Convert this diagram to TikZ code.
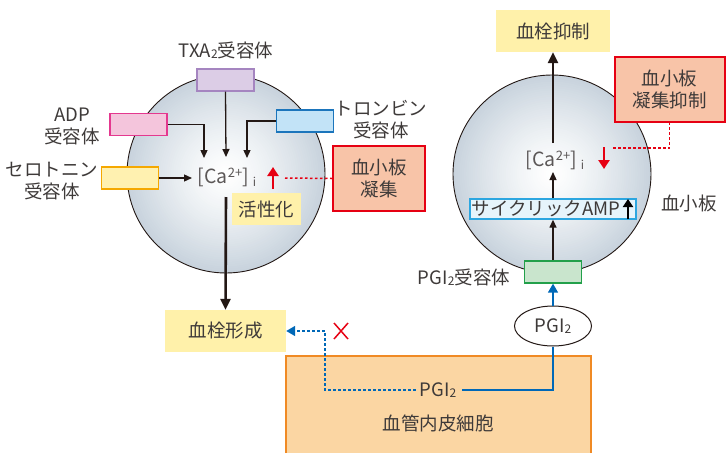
\documentclass[tikz,border=0pt]{standalone}
\usepackage{fontspec}
\setmainfont{Noto Sans CJK JP}
\usetikzlibrary{arrows.meta,calc,shapes.geometric}
\definecolor{txt}{HTML}{3E3A39}
\definecolor{cedge}{HTML}{231815}
\definecolor{cfill}{HTML}{C8D3DD}
\definecolor{txaf}{HTML}{DCCDE6}
\definecolor{txad}{HTML}{A585C0}
\definecolor{adpf}{HTML}{F4C5DC}
\definecolor{adpd}{HTML}{E4388F}
\definecolor{serf}{HTML}{FFF1B0}
\definecolor{serd}{HTML}{F5A800}
\definecolor{thrf}{HTML}{C2E3F7}
\definecolor{thrd}{HTML}{1B75BC}
\definecolor{yel}{HTML}{FFF1AA}
\definecolor{salm}{HTML}{F8C4A8}
\definecolor{rd}{HTML}{E60012}
\definecolor{orf}{HTML}{FBD6A3}
\definecolor{ord}{HTML}{F08A24}
\definecolor{grf}{HTML}{C9E5CD}
\definecolor{grd}{HTML}{22A04A}
\definecolor{bl}{HTML}{0068B7}
\definecolor{cyf}{HTML}{E6F4FB}
\definecolor{cyd}{HTML}{2CA6E0}
\tikzset{
  platelet/.style={circle, draw=cedge, line width=0.9pt, minimum size=198pt, inner sep=0pt},
  rbox/.style={rectangle, line width=1.3pt, minimum width=57pt, minimum height=22pt, inner sep=0pt},
  lbl/.style={align=center, inner sep=0pt, text=txt},
  ybox/.style={rectangle, fill=yel, inner sep=0pt, text=txt},
  rbx/.style={rectangle, fill=salm, draw=rd, line width=2pt, inner sep=0pt, align=center, text=txt},
  arr/.style={draw=cedge, line width=1.3pt, -{Triangle[length=8pt,width=7pt]}},
  thick arr/.style={draw=cedge, line width=2.6pt, -{Triangle[length=11pt,width=10pt]}},
  redarr/.style={draw=rd, line width=2.8pt, -{Triangle[length=9pt,width=11pt]}},
  reddot/.style={draw=rd, line width=1.5pt, dash pattern=on 2.5pt off 2.5pt},
  bluedot/.style={draw=bl, line width=1.5pt, dash pattern=on 2.5pt off 2.5pt, -{Triangle[length=9pt,width=10pt]}},
  bluearr/.style={draw=bl, line width=1.5pt, -{Triangle[length=9pt,width=10pt]}},
}
\newcommand{\subtwo}{\raisebox{-1pt}{\fontsize{12}{12}\selectfont 2}}
\newcommand{\caconc}{{\fontsize{19.5}{22}\selectfont[Ca\raisebox{6pt}{\fontsize{13}{13}\selectfont 2+}]\hspace{4pt}\raisebox{-3pt}{\fontsize{12}{12}\selectfont i}}}
\newcommand{\pltgrad}[1]{%
  \foreach \k in {0,...,44}{%
    \pgfmathsetmacro\rr{99*(1-\k/45)}%
    \pgfmathsetmacro\pp{100*(1-\k/45)^1.3}%
    \fill[cfill!\pp!white] (#1.center) circle (\rr);%
  }%
  \node[platelet] at (#1.center) {};%
}
\begin{document}
\begin{tikzpicture}[x=1pt,y=-1pt, font=\fontsize{18.5}{22}\selectfont, text=txt]
\useasboundingbox (0,0) rectangle (726,453);

% platelets
\node[platelet, draw=none] (lc) at (226,174) {};
\node[platelet, draw=none] (rc) at (552,174) {};
\pltgrad{lc}
\pltgrad{rc}

% left receptors
\node[rbox, fill=txaf, draw=txad] (txa) at (225.5,80) {};
\node[rbox, fill=adpf, draw=adpd] (adp) at (138.5,124.5) {};
\node[rbox, fill=serf, draw=serd] (ser) at (130,178) {};
\node[rbox, fill=thrf, draw=thrd] (thr) at (305,121) {};

\node[lbl] (txal) at (226,50) {TXA\subtwo 受容体};
\node[lbl] (adpl) at (72,126) {ADP\\受容体};
\node[lbl] (serl) at (52,181) {セロトニン\\受容体};
\node[lbl] (thrl) at (381,120) {トロンビン\\受容体};

\node[lbl, text=txt!85] (cal) at (227,177) {\caconc};

\coordinate (adpend) at (204,158);
\coordinate (txaend) at (226,157);
\coordinate (thrend) at (247,158);
\coordinate (serend) at (192,178);
\draw[arr] (adp.east) -| (adpend);
\draw[arr] (txa.south) -- (txaend);
\draw[arr] (thr.west) -| (thrend);
\draw[arr] (ser.east) -- (serend);

% red up arrow + dotted to aggregation
\coordinate (ru0) at (273,189);
\coordinate (ru1) at (273,167);
\draw[redarr] (ru0) -- (ru1);
\node[rbx, minimum width=92pt, minimum height=65pt] (agg) at (379,178.5) {血小板\\凝集};
\coordinate (rdl) at (285,178);
\draw[reddot] (rdl) -- (agg.west);

\node[ybox, minimum width=69pt, minimum height=32pt] (act) at (266.5,209) {活性化};

% thrombus formation
\node[ybox, minimum width=121pt, minimum height=42pt] (tf) at (225.5,331) {血栓形成};
\coordinate (ts) at (226,197);
\draw[thick arr] (ts) -- (tf.north);

% endothelium
\fill[orf] (286,356) rectangle (591,453);
\draw[ord, line width=1.3pt] (286,453) -- (286,356) -- (591,356) -- (591,453);
\node[lbl] (pgie) at (438,390) {PGI\subtwo};
\node[lbl] (endo) at (438,423) {血管内皮細胞};

% blocked path
\coordinate (bc) at (325,331);
\draw[bluedot] ([xshift=-4pt]pgie.west) -| (bc) -- (tf.east);
\draw[rd, line width=1.5pt] (334,323) -- (348,339) (348,323) -- (334,339);

% right side
\node[rbox, fill=grf, draw=grd] (pgir) at (553,272) {};
\node[lbl] (pgirl) at (464,277) {PGI\subtwo 受容体};
\node[ellipse, draw=cedge, fill=white, line width=1pt, minimum width=77pt, minimum height=40pt, inner sep=0pt] (pgiel) at (553,326) {PGI\subtwo};
\draw[bl, line width=1.5pt] ([xshift=6pt]pgie.east) -| (pgiel.south);
\draw[bluearr] (pgiel.north) -- (pgir.south);

\node[rectangle, fill=cyf, draw=cyd, line width=1.3pt, minimum width=166pt, minimum height=20pt, inner sep=0pt, text=txt] (camp) at (553,209) {\hspace*{-14pt}サイクリックAMP};
\coordinate (cu0) at (628,219);
\coordinate (cu1) at (628,199);
\draw[draw=black, line width=2.8pt, -{Triangle[length=8pt,width=10pt]}] (cu0) -- (cu1);
\draw[arr] (pgir.north) -- (camp.south);

\node[lbl, text=txt!85] (car) at (555,160) {\caconc};
\coordinate (caend) at (553,172);
\draw[arr] (camp.north) -- (caend);

\coordinate (rd0) at (604,147);
\coordinate (rd1) at (604,169);
\draw[redarr] (rd0) -- (rd1);

\node[rbx, minimum width=110pt, minimum height=65pt] (inh) at (669.5,89.5) {血小板\\凝集抑制};
\coordinate (rdr) at (613,148);
\draw[reddot] (rdr) -| (inh.south);

\node[ybox, minimum width=114pt, minimum height=42pt] (ti) at (553,31) {血栓抑制};
\coordinate (tsr) at (553,143);
\draw[thick arr] (tsr) -- (ti.south);

\node[lbl] (pltl) at (689,203) {血小板};
\end{tikzpicture}
\end{document}
